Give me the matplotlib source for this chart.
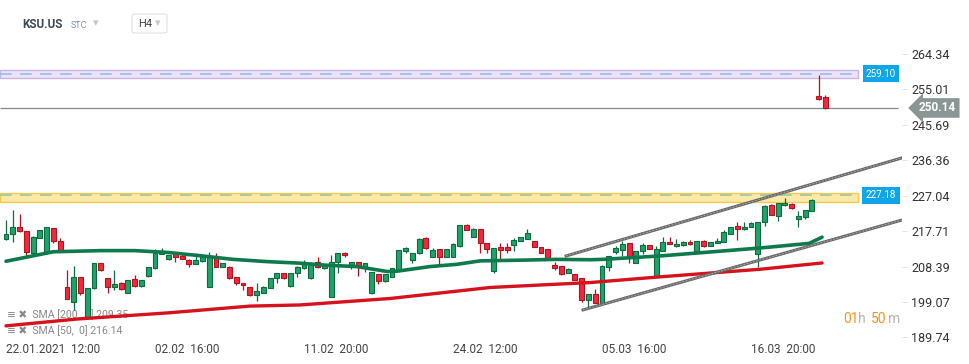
import numpy as np
import matplotlib
matplotlib.use("Agg")
import matplotlib.pyplot as plt
import matplotlib.transforms as mtransforms

plt.rcParams['font.family'] = ['Roboto', 'DejaVu Sans']

# H4 candles, KSU.US (open, high, low, close)
opens = [215.6, 217.0, 218.7, 217.8, 212.1, 215.8, 211.9, 218.5, 215.1, 202.9,
         199.2, 205.6, 195.2, 202.7, 209.3, 205.3, 203.1, 204.0, 201.5, 205.0,
         203.3, 206.0, 207.9, 211.7, 210.3, 212.1, 211.2, 210.1, 209.1, 209.8,
         202.9, 210.6, 208.4, 208.2, 205.6, 204.2, 202.9, 200.9, 201.4, 202.7,
         205.3, 206.6, 203.3, 206.6, 207.9, 205.3, 209.5, 207.9, 200.5, 209.7,
         211.9, 208.8, 209.5, 208.2, 201.4, 206.4, 204.7, 205.7, 207.5, 212.6,
         210.0, 211.9, 215.8, 210.8, 212.9, 211.0, 211.0, 213.9, 219.3, 216.3,
         218.2, 214.7, 207.3, 213.5, 213.5, 214.1, 215.0, 215.7, 215.0, 213.6,
         212.9, 208.8, 208.6, 206.6, 206.4, 205.3, 199.6, 201.2, 198.9, 208.2,
         212.3, 212.8, 214.5, 209.3, 212.6, 214.0, 206.0, 212.6, 214.9, 213.8,
         214.1, 214.9, 212.6, 215.0, 213.8, 214.5, 214.8, 217.1, 219.1, 218.2,
         218.7, 211.7, 220.0, 224.6, 221.8, 224.5, 224.9, 220.8, 221.4, 223.1,
         253.3, 253.0]
highs = [220.7, 223.3, 222.2, 217.8, 216.4, 218.0, 218.7, 218.5, 215.8, 207.5,
         208.6, 205.6, 202.7, 209.4, 209.4, 205.3, 207.5, 204.4, 204.9, 206.2,
         204.9, 208.2, 212.9, 213.2, 211.5, 212.3, 211.9, 210.3, 211.9, 210.8,
         212.3, 212.1, 209.4, 208.6, 205.6, 204.2, 202.9, 204.2, 203.3, 205.3,
         206.6, 206.8, 206.6, 208.6, 210.0, 209.7, 210.8, 209.3, 211.4, 212.1,
         212.2, 209.7, 209.7, 209.3, 207.1, 206.4, 206.4, 207.9, 212.8, 213.6,
         212.1, 215.8, 216.3, 213.4, 212.9, 212.9, 214.5, 219.3, 219.6, 218.5,
         218.2, 214.7, 213.4, 214.5, 214.5, 215.8, 216.3, 218.2, 215.0, 213.6,
         212.9, 209.7, 208.6, 207.9, 206.4, 205.3, 201.1, 202.4, 208.8, 211.2,
         213.8, 215.0, 214.5, 212.5, 214.7, 214.0, 213.8, 216.1, 216.3, 215.6,
         215.2, 215.4, 215.1, 215.4, 214.9, 215.8, 218.0, 218.7, 220.0, 220.1,
         220.0, 220.2, 224.6, 224.9, 225.2, 226.4, 225.0, 223.1, 223.3, 226.1,
         258.9, 253.5]
lows = [215.4, 214.8, 217.6, 211.2, 211.9, 215.8, 211.7, 214.7, 212.3, 199.8,
        197.1, 200.9, 195.0, 202.4, 207.3, 201.4, 202.2, 202.2, 201.5, 203.1,
        203.1, 205.7, 207.7, 211.7, 210.1, 209.7, 210.5, 208.2, 209.1, 209.6,
        202.9, 208.4, 208.2, 205.2, 203.5, 202.2, 200.7, 199.4, 201.4, 202.7,
        204.0, 205.2, 203.1, 205.7, 207.8, 205.1, 207.9, 207.7, 200.5, 206.8,
        210.8, 207.7, 205.9, 207.1, 201.2, 203.8, 204.4, 205.6, 207.3, 212.1,
        209.3, 211.7, 213.1, 210.8, 208.6, 211.0, 211.0, 213.6, 217.9, 216.3,
        211.9, 211.9, 206.8, 210.3, 212.1, 212.6, 215.0, 215.6, 213.5, 211.9,
        210.3, 207.5, 206.2, 206.6, 204.9, 199.2, 197.4, 198.7, 198.7, 207.3,
        211.7, 211.2, 209.4, 209.3, 211.7, 212.9, 206.0, 212.6, 214.3, 213.6,
        213.8, 214.1, 212.6, 213.6, 213.8, 214.5, 214.8, 217.1, 215.4, 217.9,
        218.7, 208.4, 219.1, 222.0, 220.5, 224.3, 223.6, 218.9, 220.8, 223.1,
        252.2, 249.9]
closes = [217.1, 218.7, 217.8, 212.3, 216.1, 218.0, 218.7, 215.0, 212.5, 200.0,
          205.7, 201.5, 202.7, 209.3, 207.5, 203.1, 203.8, 202.4, 204.9, 203.3,
          204.9, 208.2, 212.1, 212.5, 211.5, 211.0, 210.5, 209.1, 210.1, 210.8,
          210.8, 208.4, 209.3, 205.3, 204.0, 203.5, 200.8, 201.9, 203.1, 205.3,
          206.6, 205.3, 206.6, 208.2, 209.1, 209.4, 208.4, 208.8, 209.7, 211.9,
          211.4, 209.5, 208.6, 209.3, 207.1, 204.7, 206.4, 207.9, 212.8, 213.2,
          211.9, 215.6, 213.2, 212.8, 211.0, 212.9, 214.3, 219.3, 217.9, 218.2,
          214.5, 212.9, 213.4, 212.8, 212.8, 215.4, 216.1, 217.2, 213.5, 212.1,
          210.6, 208.1, 206.4, 207.8, 204.9, 199.6, 201.1, 198.9, 208.6, 211.2,
          213.2, 214.3, 211.2, 212.5, 214.1, 212.9, 212.9, 214.9, 214.3, 214.3,
          214.9, 214.3, 215.1, 213.8, 214.9, 215.2, 217.4, 218.7, 218.2, 218.7,
          219.8, 220.0, 224.4, 222.1, 225.0, 225.0, 223.7, 221.7, 223.3, 225.9,
          252.4, 250.14]

# moving averages, read at a few bars
sma50_bar = [0, 7, 14, 19, 24, 29, 33.5, 38.6, 43.4, 46.8, 51.8, 56.3, 57.8, 62.6,
             66.6, 70, 76.4, 81.4, 86.3, 88.2, 96.6, 106.5, 111.4, 118.6, 120.5]
sma50_val = [209.8, 212.3, 212.6, 212.6, 212.1, 211.2, 210.3, 209.7, 209.3, 208.8,
             208.4, 207.1, 207.2, 208.4, 209.0, 209.9, 210.1, 210.3, 210.2, 210.3,
             211.2, 212.6, 213.3, 214.5, 216.14]
sma200_bar = [0, 10.5, 23.8, 36, 43.4, 56.7, 71.5, 86.3, 96.6, 111.4, 120.5]
sma200_val = [192.8, 194.6, 196.2, 198.0, 198.3, 200.0, 202.9, 204.2, 205.7, 207.7, 209.35]

# trend channel (bar, price)
upper_x = [82.7, 132.3]
upper_y = [211.2, 237.0]
lower_x = [85.2, 132.3]
lower_y = [197.0, 220.65]

resistance = 259.10
support = 227.18
last_price = 250.14

y_ticks = [264.34, 255.01, 245.69, 236.36, 227.04, 217.71, 208.39, 199.07, 189.74]
x_tick_bars = [0, 22, 44, 66, 88, 110]
x_tick_labels = ["22.01.2021  12:00", "02.02  16:00", "11.02  20:00",
                 "24.02  12:00", "05.03  16:00", "16.03  20:00"]

W, H = 970, 364
fig = plt.figure(figsize=(W / 100, H / 100), dpi=100)
ax = fig.add_axes([0, 1 - 340 / H, 902 / W, 300 / H])
ax.set_xlim(-0.886, 132.3)
ax.set_ylim(189.08, 268.02)

o = np.array(opens)
c = np.array(closes)
hi = np.array(highs)
lo = np.array(lows)
idx = np.arange(len(o))
up = c >= o

# bands
band_end = 858 / 902
ax.axhspan(257.9, 260.2, xmin=0, xmax=band_end, facecolor='#ece4f6',
           edgecolor='#c9b3e3', lw=1, zorder=1)
ax.hlines(resistance, -0.886, 125.9, colors='#8cc0ea', lw=1.2,
          linestyles=(0, (7, 5)), zorder=1.5)
ax.axhspan(225.5, 227.7, xmin=0, xmax=band_end, facecolor='#fde9a6',
           edgecolor='#f3c94e', lw=1, zorder=1)
ax.hlines(support, -0.886, 125.9, colors='#9cc6a2', lw=1.2,
          linestyles=(0, (7, 5)), zorder=1.5)
ax.hlines(last_price, -0.886, 131.7, colors='#7f8c8d', lw=0.9, zorder=1.5)

# candles
ax.vlines(idx[up], lo[up], hi[up], colors='#0c6b3f', lw=0.9, zorder=3)
ax.vlines(idx[~up], lo[~up], hi[~up], colors='#b5121f', lw=0.9, zorder=3)
body_h = np.maximum(np.abs(c - o), 0.3)
ax.bar(idx[up], body_h[up], bottom=np.minimum(o, c)[up], width=0.72,
       color='#22a26b', edgecolor='#0c6b3f', lw=0.8, zorder=4)
ax.bar(idx[~up], body_h[~up], bottom=np.minimum(o, c)[~up], width=0.72,
       color='#ec2a40', edgecolor='#b5121f', lw=0.8, zorder=4)

# moving averages
ax.plot(sma200_bar, sma200_val, color='#d6121c', lw=2.4, zorder=5,
        solid_capstyle='round')
ax.plot(sma50_bar, sma50_val, color='#0e7a4b', lw=2.6, zorder=5,
        solid_capstyle='round')

# channel
for xs, ys in [(upper_x, upper_y), (lower_x, lower_y)]:
    ax.plot(xs, ys, color='#6a6a6a', lw=2.2, zorder=5)
    ax.plot(xs, ys, color='#b8b8b8', lw=0.6, ls=(0, (2, 2)), zorder=5.1)

# axes styling
for s in ax.spines.values():
    s.set_visible(False)
ax.yaxis.tick_right()
ax.set_yticks(y_ticks)
ax.set_yticklabels([f"{v:.2f}" for v in y_ticks])
ax.tick_params(axis='y', length=3.6, width=0.6, color='#dcdcdc', pad=3,
               labelsize=9, labelcolor='#333333')
ax.set_xticks(x_tick_bars)
ax.set_xticklabels(x_tick_labels)
for lbl in ax.get_xticklabels():
    lbl.set_ha('left')
ax.tick_params(axis='x', length=0, pad=2, labelsize=8.5, labelcolor='#444444')

# price tags on the right
trans = mtransforms.blended_transform_factory(ax.transAxes, ax.transData)
for val in [resistance, support]:
    ax.text(881 / 902, val, f"{val:.2f}", transform=trans, ha='center',
            va='center', color='white', fontsize=7, zorder=10,
            bbox=dict(boxstyle='square,pad=0.35', fc='#0ea5e9', ec='none'))
ax.text(919 / 902, last_price, f"{last_price:.2f}", transform=trans, ha='left',
        va='center', color='white', fontsize=8.5, fontweight='bold', zorder=10,
        clip_on=False,
        bbox=dict(boxstyle='larrow,pad=0.28', fc='#8a9696', ec='none'))

# indicator legend
ax.text(7 / 902, 0.083, "\u2261 \u2716  SMA [200,  0] 209.35", transform=ax.transAxes,
        fontsize=7.6, color='#888888', va='center', zorder=2)
ax.text(7 / 902, 0.030, "\u2261 \u2716  SMA [50,  0] 216.14", transform=ax.transAxes,
        fontsize=7.6, color='#888888', va='center', zorder=2)

# header
fig.text(22 / W, 1 - 24 / H, "KSU.US", fontsize=8.5, fontweight='bold',
         color='#3d4852', va='center')
fig.text(71 / W, 1 - 25 / H, "STC", fontsize=6.5, color='#7d8ea0', va='center')
fig.text(93 / W, 1 - 23 / H, "\u25be", fontsize=8, color='#c8c8c8', va='center')
fig.text(138 / W, 1 - 24 / H, "H4", fontsize=8, color='#444444', va='center')
fig.text(155 / W, 1 - 23 / H, "\u25be", fontsize=8, color='#c8c8c8', va='center')
fig.patches.append(matplotlib.patches.FancyBboxPatch(
    (132 / W, 1 - 33 / H), 35 / W, 19 / H, boxstyle='round,pad=0,rounding_size=0.004',
    transform=fig.transFigure, fc='none', ec='#e2e2e2', lw=0.8))

# countdown
parts = [("01", '#f7941d', 843), ("h", '#b5b5b5', 858), ("50", '#f7941d', 871), ("m", '#b5b5b5', 888)]
for txt, col, px in parts:
    fig.text(px / W, 1 - 319 / H, txt, fontsize=10, color=col, va='center')

fig.savefig("out.png", dpi=100, facecolor='white')
